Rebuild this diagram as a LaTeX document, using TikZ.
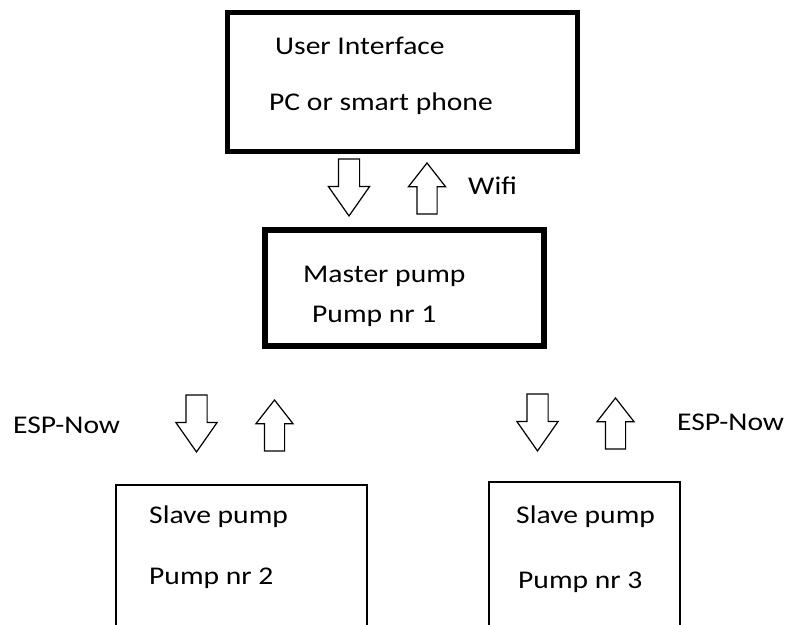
\documentclass[tikz,border=0pt]{standalone}
\usepackage{fontspec}
\setmainfont{Carlito}[FakeStretch=1.16]
\usetikzlibrary{shapes.arrows}

\begin{document}
\begin{tikzpicture}[x=1pt,y=-1pt,
box/.style={draw,inner sep=0pt},
txt/.style={anchor=base west,inner sep=0pt,font=\fontsize{25.5}{30}\selectfont},
downarrow/.style={single arrow,draw,line width=1.2pt,rotate=-90,anchor=tip,inner xsep=0pt,inner ysep=10pt,minimum height=57pt,minimum width=40pt,single arrow head extend=10pt,single arrow tip angle=70},
uparrow/.style={single arrow,draw,line width=1.2pt,rotate=90,anchor=tip,inner xsep=0pt,inner ysep=9.5pt,minimum height=51pt,minimum width=36pt,single arrow head extend=8.5pt,single arrow tip angle=76}
]
\clip (0,0) rectangle (790,624);
\node[box,line width=5pt,minimum width=350pt,minimum height=139pt] (ui) at (402,81.5) {};
\node[txt] (uiname) at (275,54) {User Interface};
\node[txt] (uidevice) at (269,110) {PC or smart phone};
\node[downarrow] (uidown) at (349,217) {};
\node[uparrow] (uiup) at (427,162) {};
\node[txt] (wifi) at (468,194) {Wifi};
\node[box,line width=6pt,minimum width=279pt,minimum height=116pt] (master) at (404.5,288) {};
\node[txt] (mastername) at (303,282) {Master pump};
\node[txt] (masternr) at (312,322) {Pump nr 1};
\node[txt] (espleft) at (13,433) {ESP-Now};
\node[downarrow] (leftdown) at (196.5,453) {};
\node[uparrow] (leftup) at (274.5,399) {};
\node[downarrow] (rightdown) at (537.5,452) {};
\node[uparrow] (rightup) at (615.5,397) {};
\node[txt] (espright) at (677,430) {ESP-Now};
\node[box,line width=1.5pt,minimum width=251pt,minimum height=200pt] (slavea) at (241.5,585) {};
\node[txt] (slaveaname) at (149,523) {Slave pump};
\node[txt] (slaveanr) at (149,584) {Pump nr 2};
\node[box,line width=1.5pt,minimum width=191pt,minimum height=200pt] (slaveb) at (584.5,582) {};
\node[txt] (slavebname) at (516,523) {Slave pump};
\node[txt] (slavebnr) at (518,588) {Pump nr 3};
\end{tikzpicture}
\end{document}
